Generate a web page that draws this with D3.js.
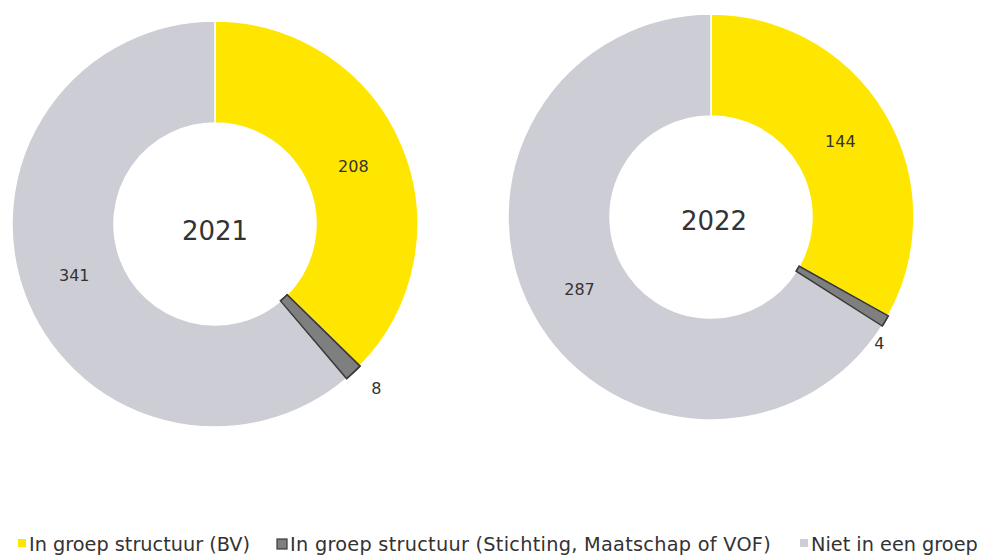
<!DOCTYPE html>
<html><head><meta charset="utf-8">
<script src="https://cdn.jsdelivr.net/npm/d3@7"></script>
<style>body{margin:0;background:#fff}svg{display:block}text{font-family:"DejaVu Sans",Verdana,sans-serif;fill:#333}</style>
</head><body>
<svg id="c" width="981" height="555"></svg>
<script>
const categories = ["In groep structuur (BV)", "In groep structuur (Stichting, Maatschap of VOF)", "Niet in een groep"];
const years = ["2021", "2022"];
const values2021 = [208, 8, 341];
const values2022 = [144, 4, 287];
const colors = ["#FFE600", "#7F7F7F", "#CDCDD5"];
const strokes = ["#FFFFFF", "#3A3A3A", "#FFFFFF"];

const svg = d3.select("#c");
const pie = d3.pie().sort(null).value(d => d);
const charts = [
  {year: years[0], values: values2021, cx: 215, cy: 224, off: [23, 16]},
  {year: years[1], values: values2022, cx: 711, cy: 217, off: [-6, 22]}
];
const R = 203, r0 = 101;
const arc = d3.arc().innerRadius(r0).outerRadius(R);

charts.forEach(ch => {
  const g = svg.append("g").attr("transform", `translate(${ch.cx},${ch.cy})`);
  const arcs = pie(ch.values);
  g.selectAll("path").data(arcs).join("path")
    .attr("d", arc)
    .attr("fill", (d, i) => colors[i])
    .attr("stroke", (d, i) => strokes[i])
    .attr("stroke-width", 1.5);
  g.append("path").datum(arcs[1]).attr("d", arc)
    .attr("fill", colors[1]).attr("stroke", strokes[1]).attr("stroke-width", 1.5);
  g.selectAll("text.v").data(arcs).join("text").attr("class", "v")
    .attr("transform", d => {
      const a = (d.startAngle + d.endAngle) / 2;
      const small = (d.endAngle - d.startAngle) < 0.3;
      if (small) return `translate(${Math.sin(a) * R + ch.off[0]},${-Math.cos(a) * R + ch.off[1]})`;
      return `translate(${Math.sin(a) * 150},${-Math.cos(a) * 150})`;
    })
    .attr("text-anchor", "middle").attr("dy", "0.35em")
    .style("font-size", "16px")
    .text(d => d.value);
  g.append("text").attr("text-anchor", "middle").attr("dy", "0.35em").attr("x", ch.cx > 500 ? 3 : 0).attr("y", ch.cx > 500 ? 4 : 7)
    .style("font-size", "26px").text(ch.year);
});

// legend
const legendX = [18, 277, 800];
const lg = svg.append("g").attr("transform", "translate(0,544)");
categories.forEach((c, i) => {
  const it = lg.append("g").attr("transform", `translate(${legendX[i]},0)`);
  it.append("rect").attr("x", 0).attr("y", -5).attr("width", i === 1 ? 10 : 8).attr("height", i === 1 ? 10 : 8)
    .attr("fill", colors[i]).attr("stroke", i === 1 ? strokes[1] : "none").attr("stroke-width", 1.2);
  it.append("text").attr("x", i === 1 ? 13 : 11).attr("dy", "0.35em").style("font-size", "19.3px")
    .style("letter-spacing", i === 1 ? "0.28px" : "0px").text(c);
});
</script>
</body></html>
